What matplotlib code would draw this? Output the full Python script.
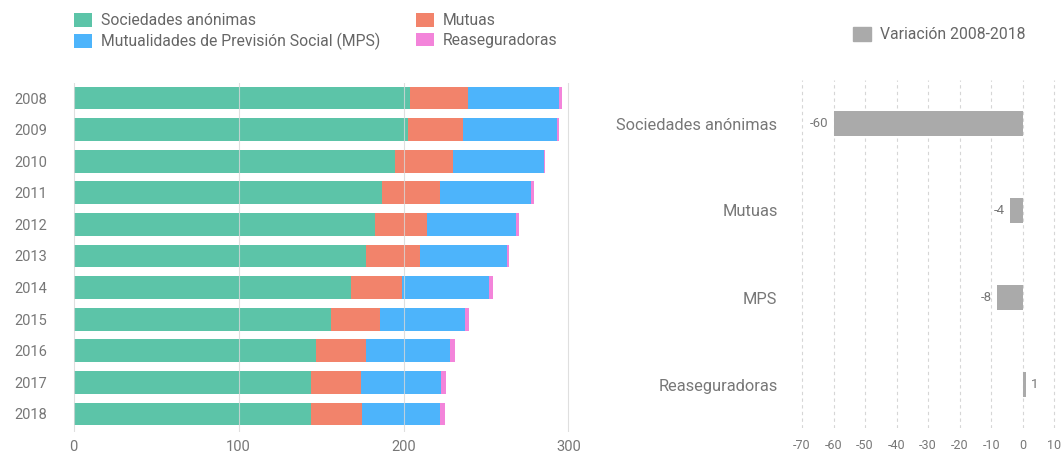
import matplotlib
matplotlib.use("Agg")
import matplotlib.pyplot as plt
from matplotlib.patches import Patch
import numpy as np

plt.rcParams['font.family'] = ['Roboto', 'DejaVu Sans']
plt.rcParams['axes.unicode_minus'] = False

years = ["2008", "2009", "2010", "2011", "2012", "2013", "2014", "2015", "2016", "2017", "2018"]
sociedades = [204, 203, 195, 187, 183, 177, 168, 156, 147, 144, 144]
mutuas = [35, 33, 35, 35, 31, 33, 31, 30, 30, 30, 31]
mps = [55, 57, 55, 55, 54, 53, 53, 51, 51, 49, 47]
reaseg = [2, 1, 1, 2, 2, 1, 2, 3, 3, 3, 3]

var_cats = ["Sociedades anónimas", "Mutuas", "MPS", "Reaseguradoras"]
var_vals = [-60, -4, -8, 1]

c_sa = "#5CC4A8"
c_mu = "#F2836B"
c_mps = "#4DB4FB"
c_re = "#F384DA"
c_var = "#AAAAAA"
txt = "#666666"
tick_c = "#777777"

W, H = 1062, 455
fig = plt.figure(figsize=(W / 100, H / 100), dpi=100)

# Left stacked bar chart
axL = fig.add_axes([72 / W, 1 - 432 / H, (580 - 72) / W, (432 - 83) / H])
y = np.arange(len(years))
left = np.zeros(len(years))
for vals, col, lab in [(sociedades, c_sa, "Sociedades anónimas"),
                       (mutuas, c_mu, "Mutuas"),
                       (mps, c_mps, "Mutualidades de Previsión Social (MPS)"),
                       (reaseg, c_re, "Reaseguradoras")]:
    axL.barh(y, vals, left=left, height=0.72, color=col, label=lab, zorder=2)
    left += np.array(vals)
axL.set_xlim(-1, 307)
axL.set_ylim(10.57, -0.475)
axL.set_yticks(y)
axL.set_yticklabels(years)
axL.set_xticks([0, 100, 200, 300])
for xv in [0, 100, 200, 300]:
    axL.axvline(xv, color="#D8D8D8", lw=0.8, zorder=3, alpha=0.8)
for s in axL.spines.values():
    s.set_visible(False)
axL.tick_params(axis="both", length=0, colors=tick_c, labelsize=10.5)
axL.tick_params(axis="y", pad=18)
axL.tick_params(axis="x", pad=6)

# Right variation chart
axR = fig.add_axes([790 / W, 1 - 428 / H, (1058 - 790) / W, (428 - 80) / H])
yr = np.arange(len(var_cats))
axR.barh(yr, var_vals, height=0.29, color=c_var, zorder=2)
axR.set_xlim(-73.8, 11.2)
axR.set_ylim(3.5, -0.5)
axR.set_yticks(yr)
axR.set_yticklabels(var_cats)
axR.set_xticks(np.arange(-70, 11, 10))
for xv in np.arange(-70, 11, 10):
    axR.axvline(xv, color="#D6D6D6", lw=0.8, ls=(0, (3, 3)), zorder=1)
for s in axR.spines.values():
    s.set_visible(False)
axR.tick_params(axis="y", length=0, colors=tick_c, labelsize=11.8, pad=9)
axR.tick_params(axis="x", length=0, colors=tick_c, labelsize=9, pad=8)
for yi, v in zip(yr, var_vals):
    if v < 0:
        axR.annotate(str(v), (v, yi), xytext=(-4, 0), textcoords="offset points",
                     ha="right", va="center", fontsize=9.5, color=tick_c)
    else:
        axR.annotate(str(v), (v, yi), xytext=(4, 0), textcoords="offset points",
                     ha="left", va="center", fontsize=9.5, color=tick_c)

# Legends
h, l = axL.get_legend_handles_labels()
order = [0, 2, 1, 3]
leg = fig.legend([h[i] for i in order], [l[i] for i in order], ncol=2,
                 loc="upper left", bbox_to_anchor=(74 / W, 1 - 13 / H),
                 frameon=False, fontsize=11.3, handlelength=1.15, handleheight=0.95,
                 handletextpad=0.55, labelspacing=0.3, columnspacing=2.3,
                 borderpad=0, borderaxespad=0)
for t in leg.get_texts():
    t.set_color(txt)

leg2 = fig.legend([Patch(color=c_var)], ["Variación 2008-2018"], loc="upper left",
                  bbox_to_anchor=(853 / W, 1 - 27 / H), frameon=False, fontsize=11.3,
                  handlelength=1.15, handleheight=0.95, handletextpad=0.55,
                  borderpad=0, borderaxespad=0)
for t in leg2.get_texts():
    t.set_color(txt)

fig.savefig("out.png", dpi=100)
